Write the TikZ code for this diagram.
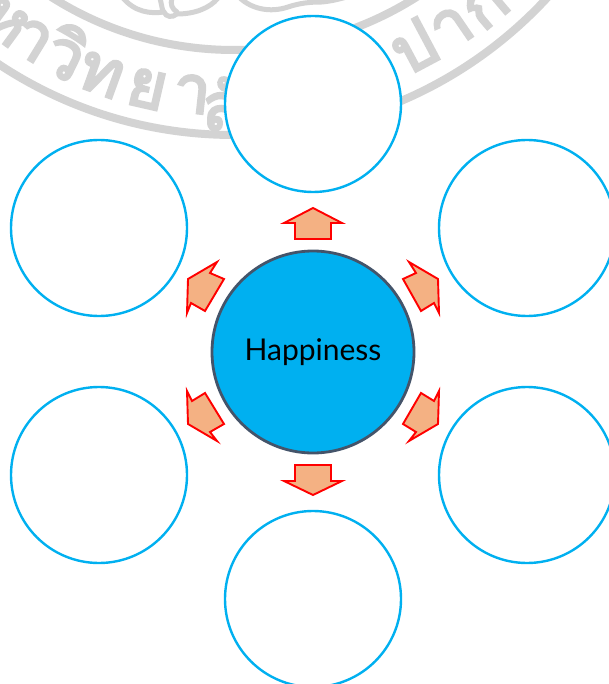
\documentclass[tikz,border=0pt]{standalone}
\usepackage{fontspec}
\newfontfamily\thaifont[Script=Thai,FakeBold=4]{Loma}
\newfontfamily\labelfont{Lato}
\definecolor{seal}{HTML}{D3D3D3}
\definecolor{ringblue}{HTML}{00B0F0}
\definecolor{hubedge}{HTML}{44546A}
\definecolor{arrowfill}{HTML}{F4B183}
\tikzset{
  sealring/.style={draw=seal,line width=8pt},
  sealline/.style={draw=seal,line width=5pt,line cap=round},
  sealglyph/.style={text=seal,font=\thaifont\fontsize{66}{66}\selectfont,inner sep=0pt},
  outer/.style={circle,draw=ringblue,fill=white,line width=2.4pt,minimum size=176pt,inner sep=0pt},
  hub/.style={circle,draw=hubedge,fill=ringblue,line width=2.8pt,minimum size=202pt,inner sep=0pt,font=\labelfont\fontsize{30}{30}\selectfont,text=black},
  block/.style={draw=red,fill=arrowfill,line width=1.9pt,line join=miter,miter limit=10}
}
\begin{document}
\begin{tikzpicture}[x=1pt,y=-1pt]
\useasboundingbox (0,0) rectangle (609,684);
\clip (0,0) rectangle (609,684);
\coordinate (sealc) at (234,-291);
% seal watermark
\draw[sealring] (sealc) circle[radius=426pt];
\draw[sealring] (sealc) circle[radius=341pt];
\foreach \px/\py/\g in {5/22/ห,32/40/า,67/52/วิ,101/75/ท,147/89/ย,192/94/า,222/104/ลั,413/46/ป,452/28/า,486/6/ก}{
  \pgfmathsetmacro{\ang}{atan((\px-234)/(\py+291))}
  \node[sealglyph,rotate=\ang] at (\px,\py) {\g};
}
\draw[sealline] (123,-2) .. controls (135,12) and (150,14) .. (164,12) .. controls (166,17) and (172,18) .. (177,14) .. controls (195,14) and (210,8) .. (218,-2);
\draw[sealline] (160,-2) -- (163,12);
\draw[sealline] (172,-2) .. controls (170,4) and (172,9) .. (177,12);
\draw[sealline] (240,-2) .. controls (252,9) and (270,13) .. (288,7) .. controls (300,3) and (310,2) .. (322,2) .. controls (332,1) and (340,-1) .. (350,-4);
% outer circles
\node[outer] (top) at (313,104) {};
\node[outer] (ul) at (99,228) {};
\node[outer] (ur) at (527,228) {};
\node[outer] (ll) at (99,475) {};
\node[outer] (lr) at (527,475) {};
\node[outer] (bottom) at (313,599) {};
% hub
\node[hub] (center) at (313,352) {\raisebox{1pt}{Happiness}};
% block arrows
\draw[block] (313,208) -- (342,223) -- (331,223) -- (331,239) -- (295,239) -- (295,223) -- (284,223) -- cycle;
\draw[block] (313,495) -- (342,481) -- (331,481) -- (331,465) -- (295,465) -- (295,481) -- (284,481) -- cycle;
\draw[block] (409,262) -- (416,273) -- (403,279) -- (421,311) -- (434,303) -- (439,313) -- (438,279) -- cycle;
\draw[block] (217,262) -- (210,273) -- (224,279) -- (205,311) -- (191,303) -- (187,313) -- (188,279) -- cycle;
\draw[block] (409,441) -- (416,432) -- (403,424) -- (421,393) -- (434,401) -- (439,391) -- (438,424) -- cycle;
\draw[block] (217,441) -- (210,432) -- (224,424) -- (205,393) -- (192,401) -- (187,391) -- (188,424) -- cycle;
\end{tikzpicture}
\end{document}
